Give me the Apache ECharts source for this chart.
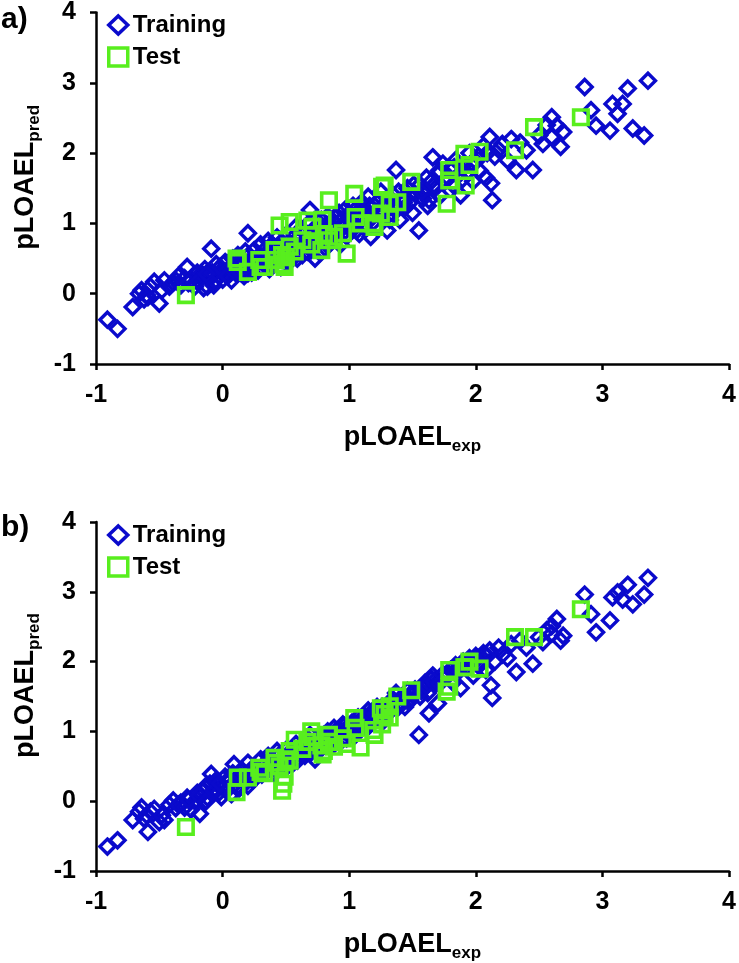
<!DOCTYPE html>
<html>
<head>
<meta charset="utf-8">
<script src="https://cdn.jsdelivr.net/npm/echarts@6/dist/echarts.min.js"></script>
<style>
html,body{margin:0;padding:0;background:#fff;}
#c{width:739px;height:963px;}
</style>
</head>
<body>
<div id="c"></div>
<script>
// Experimental pLOAEL values of training compounds (shared by both models)
var trainExp = [
-0.91,-0.83,-0.71,-0.66,-0.64,-0.62,-0.59,-0.54,-0.5,-0.46,
-0.42,-0.39,-0.37,-0.33,-0.3,-0.28,-0.25,-0.22,-0.2,-0.18,
-0.17,-0.15,-0.14,-0.12,-0.1,-0.09,-0.08,-0.06,-0.05,-0.03,
-0.01,0.0,0.02,0.03,0.05,0.07,0.08,0.09,0.1,0.12,
0.13,0.15,0.17,0.18,0.2,0.2,0.22,0.24,0.25,0.27,
0.28,0.3,0.31,0.33,0.35,0.36,0.38,0.4,0.41,0.43,
0.45,0.46,0.48,0.5,0.51,0.53,0.55,0.56,0.58,0.6,
0.61,0.63,0.65,0.66,0.68,0.69,0.7,0.72,0.73,0.75,
0.76,0.78,0.8,0.81,0.83,0.85,0.86,0.88,0.9,0.92,
0.93,0.95,0.97,0.98,1.0,1.02,1.03,1.05,1.07,1.08,
1.1,1.12,1.14,1.15,1.17,1.19,1.2,1.22,1.24,1.25,
1.27,1.3,1.31,1.33,1.35,1.37,1.38,1.4,1.42,1.44,
1.46,1.48,1.5,1.52,1.55,1.56,1.58,1.6,1.62,1.63,
1.65,1.66,1.68,1.7,1.72,1.74,1.76,1.8,1.82,1.84,
1.86,1.88,1.9,1.93,1.95,1.98,2.0,2.03,2.06,2.08,
2.11,2.12,2.13,2.15,2.18,2.21,2.25,2.28,2.32,2.35,
2.4,2.45,2.5,2.53,2.56,2.6,2.6,2.64,2.67,2.69,
2.86,2.91,2.95,3.06,3.08,3.12,3.16,3.2,3.24,3.33,3.36,
-0.6,-0.57,-0.48,-0.35,-0.27,-0.19,-0.13,-0.07,-0.02,0.04,
0.11,0.14,0.19,0.23,0.26,0.32,0.34,0.37,0.39,0.42,
0.44,0.47,0.49,0.52,0.54,0.57,0.59,0.62,0.64,0.67,
0.71,0.74,0.77,0.79,0.82,0.84,0.87,0.89,0.91,0.94,
0.96,0.99,1.01,1.04,1.06,1.09,1.11,1.13,1.16,1.18,
1.21,1.23,1.26,1.28,1.32,1.36,1.39,1.43,1.47,1.51,
1.57,1.61,1.67,1.71,1.78,1.83,1.89,1.96,2.02,2.09
];
// Predicted values, model a)
var trainPredA = [
-0.37,-0.5,-0.19,0.0,0.05,-0.08,-0.05,0.17,-0.14,0.19,
0.1,0.16,0.19,0.12,0.22,0.38,0.2,0.1,0.3,0.25,
0.29,0.08,0.35,0.1,0.22,0.64,0.3,0.18,0.42,0.26,
0.33,0.2,0.45,0.3,0.36,0.19,0.5,0.4,0.3,0.55,
0.38,0.45,0.25,0.6,0.86,0.29,0.48,0.38,0.62,0.5,
0.33,0.7,0.45,0.55,0.4,0.75,0.52,0.62,0.45,0.8,
0.58,0.38,0.68,0.55,0.85,0.62,0.5,0.72,0.95,0.6,
0.78,0.55,0.88,0.7,1.0,1.19,0.62,0.85,0.5,0.95,
0.72,1.05,0.8,0.65,1.1,0.9,0.75,1.02,0.85,1.15,
0.7,0.95,1.2,0.82,1.05,0.9,1.25,0.98,1.1,0.85,
1.3,1.0,1.18,1.38,0.81,1.1,1.25,0.95,1.2,1.45,
1.05,0.9,1.3,1.15,1.4,1.76,1.2,1.05,1.35,1.22,
1.5,1.3,1.15,1.42,0.9,1.55,1.35,1.45,1.25,1.33,
1.6,1.94,1.5,1.7,1.4,1.85,1.6,1.78,1.55,1.9,
1.68,1.4,1.82,1.72,2.0,1.6,1.88,1.75,2.1,1.65,
2.23,1.57,1.33,1.95,2.05,2.13,1.9,2.2,1.76,2.15,
2.04,1.76,2.25,2.13,2.4,2.51,2.23,2.39,2.09,2.3,
2.94,2.61,2.39,2.32,2.7,2.56,2.7,2.92,2.35,2.25,3.03,
-0.02,0.1,0.05,0.25,0.15,0.18,0.28,0.12,0.38,0.25,
0.42,0.3,0.52,0.3,0.45,0.6,0.48,0.35,0.7,0.55,
0.68,0.48,0.78,0.45,0.68,0.82,0.5,0.92,0.68,0.6,
0.9,0.78,0.58,0.92,0.98,0.7,0.95,1.08,0.78,1.05,
0.88,1.12,0.95,1.18,0.9,1.2,1.08,0.92,1.25,1.0,
1.15,1.32,1.12,1.25,1.05,1.28,1.45,1.3,1.4,1.55,
1.45,1.65,1.55,1.75,1.65,1.8,1.62,1.85,1.95,2.0
];
// Predicted values, model b)
var trainPredB = [
-0.65,-0.56,-0.27,-0.15,-0.09,-0.25,-0.44,-0.11,-0.3,-0.27,
-0.05,0.01,-0.1,-0.02,-0.09,0.05,-0.12,0.0,0.12,-0.18,
0.08,0.15,0.2,0.05,0.25,0.39,0.1,0.18,0.3,0.12,
0.06,0.22,0.35,0.15,0.28,0.1,0.4,0.53,0.25,0.3,
0.18,0.45,0.32,0.38,0.55,0.22,0.42,0.3,0.5,0.36,
0.45,0.6,0.38,0.52,0.44,0.65,0.48,0.58,0.4,0.72,
0.55,0.5,0.62,0.48,0.75,0.58,0.68,0.55,0.82,0.62,
0.7,0.75,0.65,0.8,0.88,0.95,0.7,0.78,0.6,0.9,
0.72,0.85,0.95,0.8,1.0,0.88,0.78,1.05,0.92,0.98,
0.85,1.1,1.02,0.9,1.0,1.12,1.05,0.95,1.2,1.08,
1.15,1.22,1.05,1.3,1.12,1.25,1.18,1.35,1.22,1.32,
1.15,1.28,1.4,1.3,1.45,1.55,1.36,1.42,1.5,1.35,
1.58,1.45,1.52,1.6,0.95,1.5,1.62,1.7,1.55,1.26,
1.75,1.8,1.68,1.4,1.72,1.82,1.78,1.88,1.7,1.95,
1.85,1.62,2.0,1.9,2.05,1.8,2.08,1.95,2.12,1.88,
2.16,1.66,1.48,2.0,2.2,2.1,2.05,2.25,1.85,2.3,
2.2,1.97,2.35,2.28,2.45,2.51,2.4,2.61,2.3,2.37,
2.96,2.68,2.42,2.59,2.92,2.99,2.89,3.1,2.82,2.96,3.2,
-0.2,-0.15,-0.2,-0.05,0.02,0.08,0.0,0.15,0.25,0.3,
0.2,0.38,0.28,0.45,0.35,0.42,0.55,0.5,0.6,0.45,
0.65,0.58,0.55,0.68,0.62,0.72,0.58,0.78,0.7,0.82,
0.75,0.85,0.8,0.92,0.88,0.95,0.85,1.0,0.95,1.0,
1.08,0.98,1.05,1.12,1.02,1.1,1.18,1.12,1.2,1.28,
1.25,1.3,1.35,1.22,1.38,1.42,1.35,1.48,1.42,1.55,
1.58,1.65,1.72,1.68,1.8,1.85,1.92,1.98,2.05,2.08
];
// Test set
var testExp = [
-0.29,0.11,0.12,0.2,0.29,0.3,0.33,0.41,0.42,0.45,
0.47,0.48,0.49,0.5,0.53,0.53,0.57,0.63,0.67,0.7,
0.71,0.78,0.79,0.8,0.84,0.84,0.88,0.95,0.98,1.04,
1.05,1.09,1.19,1.2,1.25,1.26,1.28,1.32,1.32,1.38,
1.49,1.77,1.79,1.79,1.92,1.95,1.91,2.03,2.31,2.46,2.83
];
var testPredA = [
-0.02,0.5,0.45,0.31,0.48,0.38,0.38,0.62,0.48,0.97,
0.55,0.42,0.38,0.52,1.02,0.67,0.6,0.76,1.04,0.7,
0.95,0.62,1.05,0.85,1.33,0.76,0.81,0.86,0.57,1.42,
1.09,1.0,1.0,0.95,1.14,1.52,1.54,1.28,1.09,1.3,
1.59,1.28,1.76,1.61,1.54,1.83,1.99,2.02,2.04,2.37,2.51
];
var testPredB = [
-0.37,0.13,0.34,0.34,0.48,0.42,0.4,0.62,0.55,0.5,
0.15,0.25,0.35,0.6,0.72,0.58,0.88,0.75,0.85,1.0,
0.92,0.8,0.67,0.72,0.95,0.85,0.78,0.9,0.82,1.19,
1.05,0.77,1.02,0.95,1.33,1.1,1.25,1.36,1.2,1.5,
1.59,1.57,1.88,1.64,1.92,2.0,1.92,1.9,2.35,2.35,2.75
];
var panelLabels = ['a)', 'b)'];
var seriesNames = ['Training', 'Test'];
var axisMin = -1, axisMax = 4, axisStep = 1;

var BLUE = '#0a0acc';
var GREEN = '#58ee1e';
var FONT = '"Liberation Sans", Arial, sans-serif';

function pairs(xs, ys) { return xs.map(function (x, i) { return [x, ys[i]]; }); }

var chart = echarts.init(document.getElementById('c'), null, { renderer: 'canvas' });

var nameRich = {
  b: { fontSize: 27, fontWeight: 'bold', fontFamily: FONT, color: '#000', lineHeight: 31, verticalAlign: 'top' },
  s: { fontSize: 17, fontWeight: 'bold', fontFamily: FONT, color: '#000', lineHeight: 18, verticalAlign: 'bottom' }
};
var tickLabel = { color: '#000', fontSize: 25, fontWeight: 'bold', fontFamily: FONT };
var axLine = { show: true, onZero: false, lineStyle: { color: '#000', width: 2.5 } };
var axTick = { show: true, inside: false, length: 6, lineStyle: { color: '#000', width: 2.5 } };

function xAx(gi) {
  return {
    gridIndex: gi, type: 'value', min: axisMin, max: axisMax, interval: axisStep,
    axisLine: axLine, axisTick: axTick, splitLine: { show: false },
    axisLabel: Object.assign({ margin: 19 }, tickLabel),
    name: '{b|pLOAEL}{s|exp}', nameLocation: 'middle', nameGap: 60,
    nameTextStyle: { rich: nameRich }
  };
}
function yAx(gi) {
  return {
    gridIndex: gi, type: 'value', min: axisMin, max: axisMax, interval: axisStep,
    axisLine: axLine, axisTick: axTick, splitLine: { show: false },
    axisLabel: Object.assign({ margin: 20 }, tickLabel),
    name: '{b|pLOAEL}{s|pred}', nameLocation: 'middle', nameGap: 45,
    nameTextStyle: { rich: nameRich, padding: [0, 0, 0, 22] }
  };
}
function legendFor(top) {
  return {
    orient: 'vertical', left: 107, top: top, itemWidth: 19, itemHeight: 18, itemGap: 8,
    selectedMode: false, padding: 0,
    textStyle: { fontSize: 24, fontWeight: 'bold', fontFamily: FONT, color: '#000' },
    data: [
      { name: seriesNames[0], icon: 'diamond', itemStyle: { color: 'rgba(0,0,0,0)', borderColor: BLUE, borderWidth: 3.5 } },
      { name: seriesNames[1], icon: 'rect', itemStyle: { color: 'rgba(0,0,0,0)', borderColor: GREEN, borderWidth: 3.5 } }
    ]
  };
}
function trainSeries(gi, ys) {
  return {
    name: seriesNames[0], type: 'scatter', xAxisIndex: gi, yAxisIndex: gi,
    symbol: 'diamond', symbolSize: 15,
    itemStyle: { color: 'rgba(0,0,0,0)', borderColor: BLUE, borderWidth: 3.4, opacity: 1 },
    data: pairs(trainExp, ys), z: 2
  };
}
function testSeries(gi, ys) {
  return {
    name: seriesNames[1], type: 'scatter', xAxisIndex: gi, yAxisIndex: gi,
    symbol: 'rect', symbolSize: 14.5,
    itemStyle: { color: 'rgba(0,0,0,0)', borderColor: GREEN, borderWidth: 3.6, opacity: 1 },
    data: pairs(testExp, ys), z: 3
  };
}

chart.setOption({
  animation: false,
  backgroundColor: '#fff',
  title: [
    { text: panelLabels[0], left: 1, top: 5, padding: 0, textStyle: { fontSize: 30, fontWeight: 'bold', fontFamily: FONT, color: '#000' } },
    { text: panelLabels[1], left: 1, top: 513, padding: 0, textStyle: { fontSize: 30, fontWeight: 'bold', fontFamily: FONT, color: '#000' } }
  ],
  grid: [
    { left: 96, right: 10, top: 12, height: 352 },
    { left: 96, right: 10, top: 522, height: 352 }
  ],
  xAxis: [xAx(0), xAx(1)],
  yAxis: [yAx(0), yAx(1)],
  legend: [legendFor(13), legendFor(523)],
  series: [
    trainSeries(0, trainPredA), testSeries(0, testPredA),
    trainSeries(1, trainPredB), testSeries(1, testPredB)
  ]
});
</script>
</body>
</html>
